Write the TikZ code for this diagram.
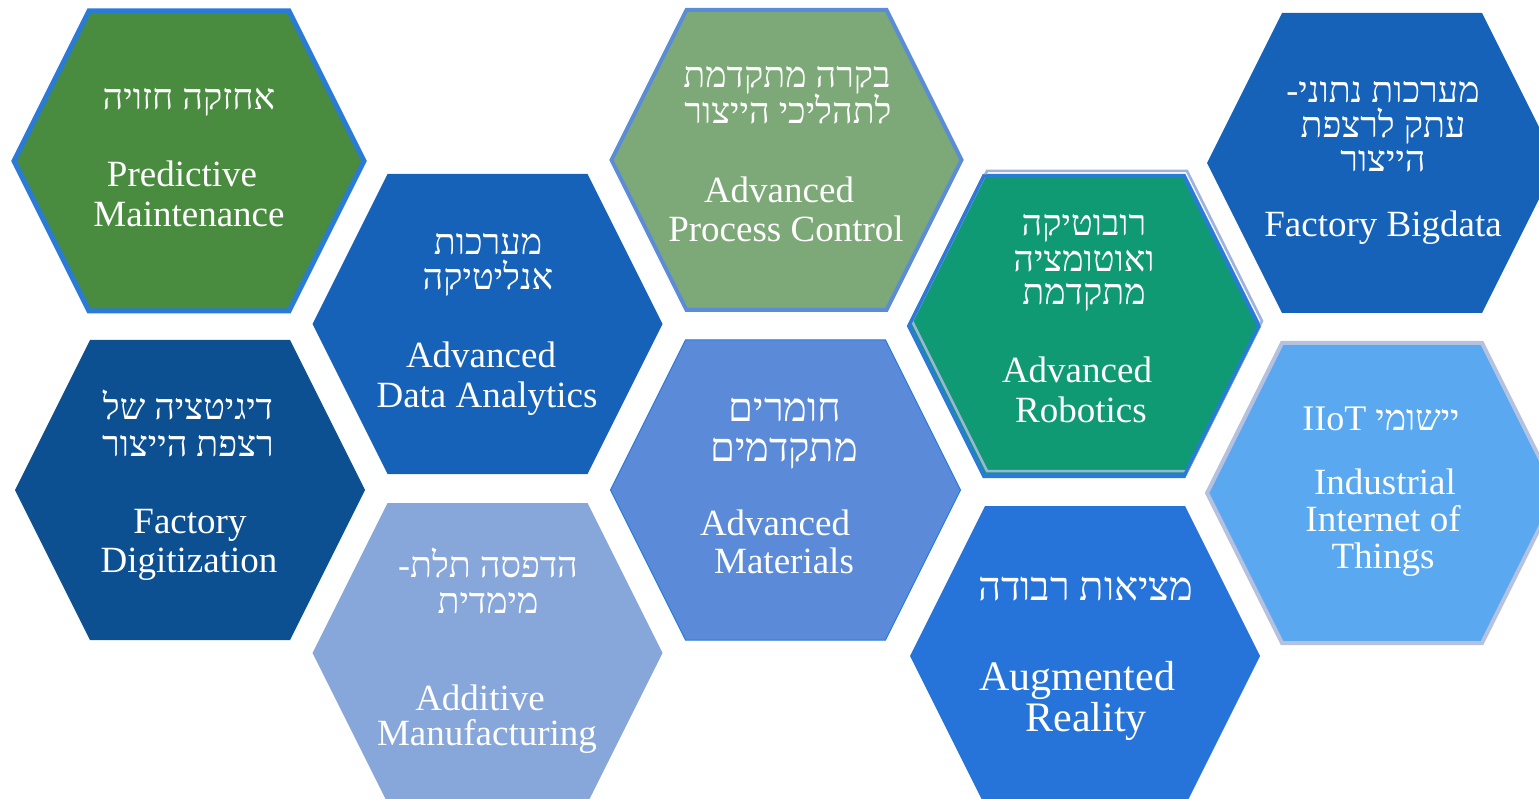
\documentclass[tikz,border=0pt]{standalone}
\usepackage{fontspec}
\setmainfont{Liberation Serif}
\newfontfamily\heb[Script=Hebrew]{Liberation Serif}
\TeXXeTstate=1
\definecolor{cGreen}{HTML}{4A8C3F}
\definecolor{cDark}{HTML}{0C5092}
\definecolor{cMid}{HTML}{1662B8}
\definecolor{cPale}{HTML}{87A6DA}
\definecolor{cSage}{HTML}{7DA877}
\definecolor{cMat}{HTML}{5A8AD8}
\definecolor{cTeal}{HTML}{109A74}
\definecolor{cAug}{HTML}{2674D9}
\definecolor{cSky}{HTML}{5AA8F0}
\definecolor{bBlue}{HTML}{2A7AD8}
\definecolor{bSoft}{HTML}{5B8CD8}
\definecolor{bLight}{HTML}{9DB2DE}
\definecolor{bGrey}{HTML}{B4C2E0}
\newcommand\hexpath[2]{(#1-175,#2) -- (#1-100,#2-150) -- (#1+100,#2-150) -- (#1+175,#2) -- (#1+100,#2+150) -- (#1-100,#2+150) -- cycle}
\tikzset{
  en/.style={text=white, inner sep=0pt, anchor=base, font=\fontsize{37}{40}\selectfont},
  enbig/.style={en, font=\fontsize{42}{44}\selectfont},
  he/.style={text=white, inner sep=0pt, anchor=base, font=\heb\fontsize{36}{38}\selectfont},
  hebig/.style={he, font=\heb\fontsize{40}{42}\selectfont},
  hexline/.style={line join=miter}
}
\begin{document}
\begin{tikzpicture}[x=1pt,y=-1pt]
\useasboundingbox (0,0) rectangle (1539,799);
\clip (0,0) rectangle (1539,799);
% hexagons
\fill[cGreen, draw=bBlue, line width=5pt, hexline] \hexpath{189}{161};
\fill[cDark] \hexpath{190}{490};
\fill[cMid] \hexpath{487.5}{324};
\fill[cPale] \hexpath{487.5}{653};
\fill[cSage, draw=bSoft, line width=4pt, hexline] \hexpath{786.5}{160};
\fill[cMat, draw=bBlue, line width=1pt, hexline] \hexpath{785.5}{490};
\fill[cTeal, draw=bBlue, line width=4pt, hexline] \hexpath{1084}{326};
\draw[bLight, line width=2.5pt, hexline] \hexpath{1087}{321};
\draw[bBlue, line width=3pt, hexline] \hexpath{1084}{326};
\fill[cAug] \hexpath{1085}{656};
\fill[cMid] \hexpath{1382}{163};
\fill[cSky, draw=bGrey, line width=4pt, hexline] \hexpath{1382}{493};
% hex 1
\node[he] (t1h) at (189,110) {\beginR אחזקה חזויה\endR};
\node[en] (t1a) at (182,187) {Predictive};
\node[en] (t1b) at (189,227) {Maintenance};
% hex 2
\node[he] (t2h) at (188,419) {\beginR דיגיטציה של\endR};
\node[he] (t2i) at (188,456) {\beginR רצפת הייצור\endR};
\node[en] (t2a) at (190,533) {Factory};
\node[en] (t2b) at (189,572) {Digitization};
% hex 3
\node[he] (t3h) at (488,255) {\beginR מערכות\endR};
\node[he] (t3i) at (488,290) {\beginR אנליטיקה\endR};
\node[en] (t3a) at (481,367) {Advanced};
\node[en] (t3b) at (487,407) {Data Analytics};
% hex 4
\node[he] (t4h) at (488,577) {\beginR הדפסה תלת-\endR};
\node[he] (t4i) at (488,613) {\beginR מימדית\endR};
\node[en] (t4a) at (480,710) {Additive};
\node[en] (t4b) at (487,745) {Manufacturing};
% hex 5
\node[he] (t5h) at (787,88) {\beginR בקרה מתקדמת\endR};
\node[he] (t5i) at (788,124) {\beginR לתהליכי הייצור\endR};
\node[en] (t5a) at (779,203) {Advanced};
\node[en] (t5b) at (786,242) {Process Control};
% hex 6
\node[hebig] (t6h) at (785,421) {\beginR חומרים\endR};
\node[hebig] (t6i) at (784,461) {\beginR מתקדמים\endR};
\node[en] (t6a) at (775,535) {Advanced};
\node[en] (t6b) at (784,573) {Materials};
% hex 7
\node[he] (t7h) at (1084,236) {\beginR רובוטיקה\endR};
\node[he] (t7i) at (1084,272) {\beginR ואוטומציה\endR};
\node[he] (t7j) at (1084,305) {\beginR מתקדמת\endR};
\node[en] (t7a) at (1077,383) {Advanced};
\node[en] (t7b) at (1081,422) {Robotics};
% hex 8
\node[hebig] (t8h) at (1086,600) {\beginR מציאות רבודה\endR};
\node[enbig] (t8a) at (1077,690) {Augmented};
\node[enbig] (t8b) at (1086,731) {Reality};
% hex 9
\node[he] (t9h) at (1383,103) {\beginR מערכות נתוני-\endR};
\node[he] (t9i) at (1383,138) {\beginR עתק לרצפת\endR};
\node[he] (t9j) at (1383,172) {\beginR הייצור\endR};
\node[en] (t9a) at (1383,237) {Factory Bigdata};
% hex 10
\node[he] (t10h) at (1381,430) {\beginR יישומי \beginL IIoT\endL\endR};
\node[en] (t10a) at (1385,494) {Industrial};
\node[en] (t10b) at (1383,531) {Internet of};
\node[en] (t10c) at (1383,568) {Things};
\end{tikzpicture}
\end{document}
